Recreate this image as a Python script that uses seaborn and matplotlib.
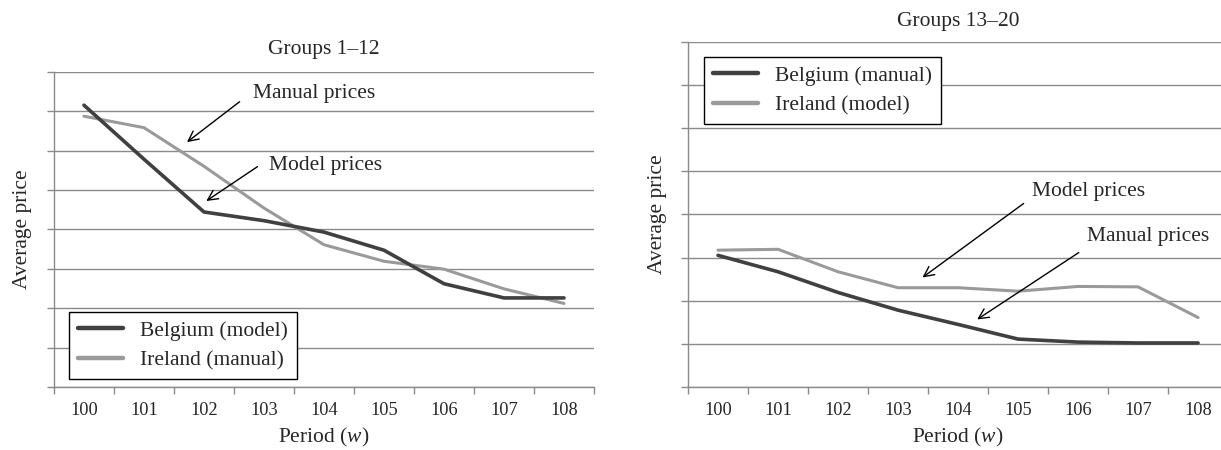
import numpy as np
import pandas as pd
import matplotlib
matplotlib.use("Agg")
import matplotlib.pyplot as plt
import seaborn as sns

# data (y in grid units, no labels on the axis)
periods = [100, 101, 102, 103, 104, 105, 106, 107, 108]

left_belgium = [7.15, 5.78, 4.44, 4.22, 3.93, 3.47, 2.62, 2.26, 2.26]
left_ireland = [6.87, 6.58, 5.60, 4.54, 3.61, 3.19, 2.99, 2.49, 2.12]
left_names = ["Belgium (model)", "Ireland (manual)"]

right_belgium = [3.05, 2.67, 2.19, 1.78, 1.45, 1.11, 1.04, 1.02, 1.02]
right_ireland = [3.17, 3.19, 2.67, 2.30, 2.30, 2.22, 2.33, 2.32, 1.61]
right_names = ["Belgium (manual)", "Ireland (model)"]

dark = "#404040"
light = "#9a9a9a"
grid_col = "#8a8a8a"
fs = 15.5

sns.set_style("white")
plt.rcParams["font.family"] = ["Liberation Serif", "DejaVu Serif"]
plt.rcParams["mathtext.fontset"] = "custom"
plt.rcParams["mathtext.it"] = "Liberation Serif:italic"
plt.rcParams["mathtext.rm"] = "Liberation Serif"


def long_df(a, b, names):
    return pd.DataFrame({
        "Period": periods * 2,
        "Price": a + b,
        "Series": [names[0]] * len(periods) + [names[1]] * len(periods),
    })


def style_axes(ax):
    ax.set_xlim(99.5, 108.5)
    ax.set_ylim(0, 8)
    ax.set_yticks(np.arange(0, 9))
    ax.set_yticklabels([])
    ax.yaxis.grid(True, color=grid_col, linewidth=1.0)
    ax.xaxis.grid(False)
    ax.set_axisbelow(True)
    ax.set_xticks(periods)
    ax.set_xticklabels([str(p) for p in periods], fontsize=13.2)
    ax.set_xticks(np.arange(99.5, 109, 1), minor=True)
    ax.tick_params(axis="x", which="major", length=0, pad=11)
    ax.tick_params(axis="x", which="minor", length=5, width=1, color=grid_col,
                   direction="out", bottom=True)
    ax.tick_params(axis="y", length=5, width=1, color=grid_col, direction="out", left=True)
    for s in ["top", "right"]:
        ax.spines[s].set_visible(False)
    for s in ["left", "bottom"]:
        ax.spines[s].set_color(grid_col)
        ax.spines[s].set_linewidth(1.0)
    ax.set_xlabel(r"Period ($\mathit{w}$)", fontsize=fs, labelpad=5)
    ax.set_ylabel("Average price", fontsize=fs, labelpad=7)


fig = plt.figure(figsize=(12.21, 4.5), dpi=100)
ax1 = fig.add_axes([0.0442, 0.14, 0.4423, 0.7007])
ax2 = fig.add_axes([0.5635, 0.14, 0.4423, 0.7673])

for ax, a, b, names in [(ax1, left_belgium, left_ireland, left_names),
                        (ax2, right_belgium, right_ireland, right_names)]:
    df = long_df(a, b, names)
    sns.lineplot(data=df, x="Period", y="Price", hue="Series",
                 palette={names[0]: dark, names[1]: light}, ax=ax, legend=False)
    ax.lines[0].set_linewidth(2.6)
    ax.lines[1].set_linewidth(2.2)
    ax.lines[0].set_zorder(3)
    ax.lines[1].set_zorder(2)
    style_axes(ax)

ax1.set_title("Groups 1\u201312", fontsize=fs, pad=13)
ax2.set_title("Groups 13\u201320", fontsize=fs, pad=11)

leg_kw = dict(fontsize=fs, frameon=True, fancybox=False, edgecolor="black",
              handlelength=2.1, borderaxespad=0, framealpha=1, labelspacing=0.45)
h1 = [plt.Line2D([], [], color=dark, lw=3.2), plt.Line2D([], [], color=light, lw=3.2)]
l1 = ax1.legend(h1, left_names, loc="lower left", bbox_to_anchor=(0.028, 0.025), **leg_kw)
l1.get_frame().set_linewidth(1.0)
l2 = ax2.legend(h1, right_names, loc="upper left", bbox_to_anchor=(0.03, 0.956), **leg_kw)
l2.get_frame().set_linewidth(1.0)

arrow = dict(arrowstyle="->", color="black", lw=1.0, mutation_scale=18)
ax1.annotate("", xy=(101.68, 6.17), xytext=(102.63, 7.28), arrowprops=arrow)
ax1.text(102.81, 7.45, "Manual prices", fontsize=fs, va="center", ha="left")
ax1.annotate("", xy=(102.0, 4.68), xytext=(102.93, 5.63), arrowprops=arrow)
ax1.text(103.09, 5.63, "Model prices", fontsize=fs, va="center", ha="left")

ax2.annotate("", xy=(103.37, 2.50), xytext=(105.13, 4.29), arrowprops=arrow)
ax2.text(105.23, 4.54, "Model prices", fontsize=fs, va="center", ha="left")
ax2.annotate("", xy=(104.28, 1.53), xytext=(106.05, 3.15), arrowprops=arrow)
ax2.text(106.15, 3.48, "Manual prices", fontsize=fs, va="center", ha="left")

fig.savefig("out.png", dpi=100)
